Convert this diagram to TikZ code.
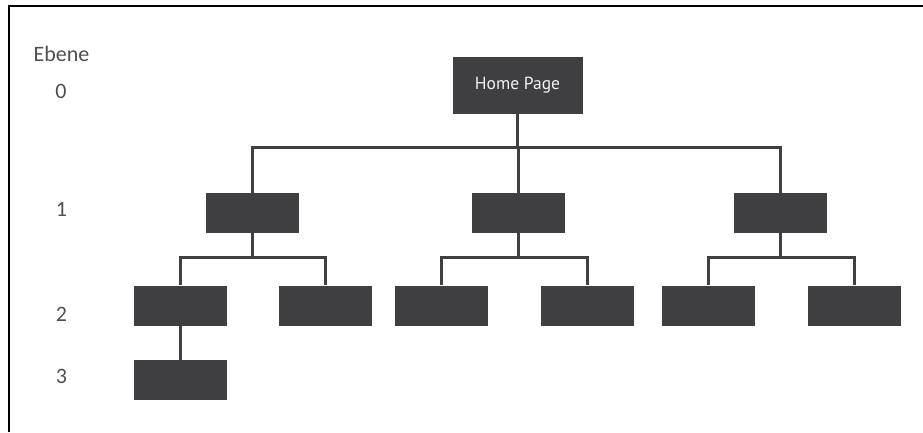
\documentclass[tikz,border=0pt]{standalone}
\usepackage{fontspec}
\usetikzlibrary{calc}
\setmainfont{Carlito}
\newfontfamily\boxfont{PT Sans}
\begin{document}
\begin{tikzpicture}[x=1pt,y=-1pt,
  page/.style={fill=boxgray,inner sep=0pt,minimum width=93pt,minimum height=40pt},
  link/.style={draw=linegray,line width=3pt},
  level/.style={anchor=base,text=labelgray,font=\fontsize{22}{25}\selectfont}]
\definecolor{boxgray}{HTML}{3F3E40}
\definecolor{linegray}{HTML}{404040}
\definecolor{labelgray}{HTML}{4F4F4F}
\useasboundingbox (0,0) rectangle (923,432);
% frame edges
\draw[line width=2pt] (9,432) -- (9,6) -- (923,6);
% level labels
\node[level] (ebene) at (61.5,61) {Ebene};
\node[level] (n0) at (61,98) {0};
\node[level] (n1) at (61.5,216) {1};
\node[level] (n2) at (61.5,321) {2};
\node[level] (n3) at (61.5,383) {3};
% pages
\node[page,minimum width=130pt,minimum height=57pt,text=white!90!gray,
      font=\boxfont\fontsize{17.5}{20}\selectfont] (home) at (517.5,85.5) {Home Page};
\node[page] (a) at (252.5,213) {};
\node[page] (b) at (518.5,213) {};
\node[page] (c) at (780.5,213) {};
\node[page] (a1) at (180.5,305.5) {};
\node[page] (a2) at (325,305.5) {};
\node[page] (b1) at (441.5,305.5) {};
\node[page] (b2) at (587.5,305.5) {};
\node[page] (c1) at (708.5,305.5) {};
\node[page] (c2) at (854.5,305.5) {};
\node[page] (a11) at (180.5,380) {};
% connectors
\coordinate (bus0) at (517.5,147);
\draw[link] (home.south) -- (bus0);
\draw[link] (a.north) |- (bus0) -| (c.north);
\draw[link] (b.north) -- (b.north |- bus0);
\foreach \p/\l/\r in {a/a1/a2,b/b1/b2,c/c1/c2}{
  \coordinate (\p bus) at ($(\p.south)+(0,24)$);
  \draw[link] (\p.south) -- (\p bus);
  \draw[link] (\l.north) |- (\p bus) -| (\r.north);
}
\draw[link] (a1.south) -- (a11.north);
\end{tikzpicture}
\end{document}
